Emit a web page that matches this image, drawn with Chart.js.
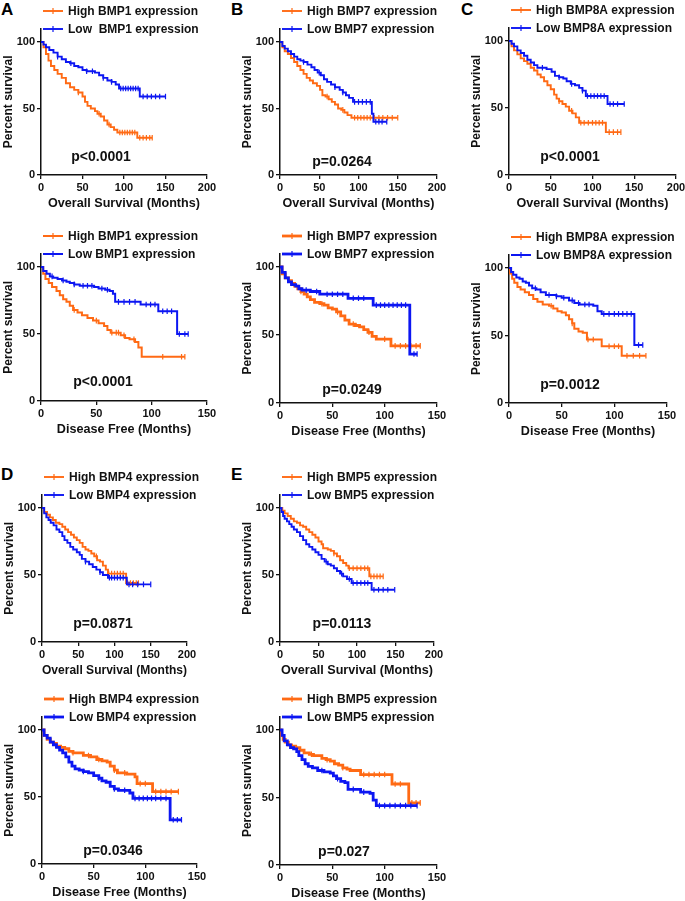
<!DOCTYPE html>
<html>
<head>
<meta charset="utf-8">
<script src="https://cdn.jsdelivr.net/npm/chart.js@4.4.0/dist/chart.umd.min.js"></script>
<style>
html, body { margin: 0; padding: 0; background: #fff; overflow: hidden; }
#fig { position: relative; width: 685px; height: 901px; }
#fig canvas { position: absolute; }
.tag { position: absolute; font: bold 17px "Liberation Sans", Arial, sans-serif; line-height: 1; color: #000; }
</style>
</head>
<body>
<div id="fig"></div>
<script>
// survival curves: [months, percent surviving]
const osHighBMP1 = [[0,100],[3,96],[6,91],[9,86],[12,82],[16,79],[20,76],[25,73],[30,69],[35,66],[40,64],[45,62],[50,59],[53,55],[56,52],[60,50],[65,48],[68,46],[72,44],[76,41],[80,38],[84,36],[88,34],[92,32],[116,28],[134,28]];
const osLowBMP1 = [[0,100],[3,98],[6,96],[10,94],[15,92],[20,89],[25,87],[30,85],[35,84],[40,82],[45,81],[50,79],[55,78],[65,77],[70,75],[75,73],[80,71],[85,70],[90,68],[94,65],[119,59],[150,59]];
const dfsHighBMP1 = [[0,100],[2,95],[4,91],[7,88],[10,85],[14,82],[17,79],[20,76],[23,74],[26,71],[29,68],[33,66],[37,64],[42,62],[47,60],[52,58],[57,56],[60,53],[63,51],[72,49],[76,47],[80,46],[85,44],[88,40],[91,33],[130,33]];
const dfsLowBMP1 = [[0,100],[2,97],[5,95],[8,93],[11,92],[15,91],[19,90],[23,89],[26,88],[30,87],[35,86],[48,85],[52,84],[58,83],[62,82],[65,80],[67,74],[90,72],[106,67],[123,50],[133,50]];

const osHighBMP7 = [[0,100],[3,96],[6,93],[10,91],[14,88],[18,85],[22,82],[26,79],[30,76],[34,73],[38,71],[42,69],[47,67],[51,64],[54,60],[58,59],[62,57],[66,55],[70,53],[74,50],[78,49],[82,47],[86,45],[91,43],[150,43]];
const osLowBMP7 = [[0,100],[3,97],[6,95],[10,93],[14,91],[18,89],[22,87],[26,86],[30,85],[35,83],[40,81],[44,79],[48,77],[52,75],[56,72],[60,70],[65,68],[70,66],[76,64],[80,62],[84,60],[88,58],[93,55],[117,46],[119,40],[136,40]];
const dfsHighBMP7 = [[0,100],[2,95],[5,92],[8,90],[11,88],[14,86],[17,84],[20,82],[23,80],[26,78],[29,76],[33,74],[38,73],[42,72],[46,70],[50,69],[54,67],[58,64],[62,61],[66,58],[72,57],[76,56],[80,54],[84,52],[88,49],[92,47],[106,42],[134,42]];
const dfsLowBMP7 = [[0,100],[2,96],[5,92],[8,89],[11,87],[15,86],[18,84],[21,83],[29,82],[38,80],[65,77],[89,72],[124,36],[131,36]];

const osHighBMP8A = [[0,100],[3,96],[6,93],[10,90],[14,87],[18,85],[22,83],[26,80],[30,78],[34,75],[38,73],[42,70],[46,67],[50,64],[54,60],[57,57],[60,55],[64,53],[68,51],[72,48],[76,46],[80,43],[84,39],[116,32],[134,32]];
const osLowBMP8A = [[0,100],[3,98],[6,96],[10,93],[14,91],[18,89],[22,86],[26,84],[30,82],[34,80],[45,79],[51,77],[55,74],[60,73],[65,72],[69,70],[74,68],[79,67],[84,65],[88,63],[92,59],[118,53],[138,53]];
const dfsHighBMP8A = [[0,100],[1,96],[3,92],[5,89],[8,86],[11,84],[15,82],[19,80],[23,77],[27,75],[32,73],[38,72],[42,70],[46,68],[50,67],[54,65],[57,62],[60,59],[62,55],[66,53],[70,52],[74,47],[88,42],[107,35],[130,35]];
const dfsLowBMP8A = [[0,100],[2,97],[4,95],[7,93],[10,92],[13,90],[16,89],[19,87],[22,85],[26,84],[30,82],[35,80],[45,79],[50,78],[57,76],[62,74],[67,73],[80,72],[84,68],[88,66],[119,43],[127,43]];

const osHighBMP4 = [[0,100],[3,97],[7,95],[11,93],[15,91],[19,89],[24,88],[28,86],[32,84],[36,82],[40,80],[44,78],[48,76],[52,74],[56,71],[60,69],[64,68],[68,66],[72,64],[76,61],[80,60],[84,57],[88,54],[91,51],[116,44],[133,44]];
const osLowBMP4 = [[0,100],[3,96],[6,93],[9,91],[12,89],[16,87],[20,84],[24,82],[28,79],[31,76],[35,74],[39,71],[43,69],[48,67],[52,65],[55,62],[60,60],[65,58],[70,56],[75,54],[80,52],[84,50],[91,48],[117,43],[150,43]];
const dfsHighBMP4 = [[0,100],[2,96],[5,93],[8,91],[11,90],[14,88],[18,87],[22,86],[26,84],[30,83],[40,81],[47,80],[53,78],[58,77],[63,76],[66,73],[70,70],[73,68],[82,67],[90,65],[92,60],[107,54],[132,54]];
const dfsLowBMP4 = [[0,100],[2,96],[5,94],[8,91],[11,89],[14,87],[17,85],[20,83],[23,80],[26,76],[29,73],[32,71],[36,70],[40,69],[45,68],[50,66],[55,64],[58,62],[62,61],[66,58],[70,56],[74,55],[85,53],[88,49],[124,33],[135,33]];

const osHighBMP5 = [[0,100],[3,98],[6,96],[10,94],[14,92],[18,90],[22,89],[26,87],[30,86],[34,84],[38,82],[42,80],[46,78],[50,75],[54,73],[56,70],[62,69],[66,68],[70,66],[74,64],[78,61],[82,59],[86,57],[89,55],[116,49],[134,49]];
const osLowBMP5 = [[0,100],[2,97],[4,94],[6,92],[9,90],[12,88],[15,86],[18,84],[22,82],[26,79],[30,76],[34,73],[38,71],[42,69],[46,67],[50,65],[54,62],[58,60],[62,58],[66,57],[70,55],[74,53],[78,51],[82,49],[87,47],[93,44],[119,39],[149,39]];
const dfsHighBMP5 = [[0,100],[1,96],[3,93],[5,91],[8,89],[11,88],[15,87],[19,85],[23,83],[28,82],[32,81],[40,79],[44,78],[48,77],[52,75],[56,74],[60,72],[64,71],[67,70],[77,67],[107,60],[123,46],[134,46]];
const dfsLowBMP5 = [[0,100],[2,96],[4,92],[7,89],[10,87],[13,86],[16,84],[18,81],[21,78],[24,75],[27,73],[31,72],[36,70],[42,69],[48,68],[51,66],[54,64],[58,62],[62,61],[65,56],[77,54],[86,53],[89,48],[92,44],[131,44]];

// censored times (months)
const osHighBMP1Cens = [45,70,82,95,98,101,104,107,110,113,119,123,127,131,134];
const osLowBMP1Cens = [20,36,55,62,75,85,96,99,102,105,108,111,114,117,123,128,133,138,143,150];
const dfsHighBMP1Cens = [30,50,64,68,70,75,84,110,127,130];
const dfsLowBMP1Cens = [10,20,30,38,42,46,55,60,70,75,80,85,95,99,103,110,114,118,125,130,133];
const osHighBMP7Cens = [60,80,95,99,103,107,111,115,120,126,131,137,143,150];
const osLowBMP7Cens = [30,50,70,80,95,100,105,110,115,122,126,130,136];
const dfsHighBMP7Cens = [20,40,55,70,85,100,110,115,120,125,130,134];
const dfsLowBMP7Cens = [25,35,45,50,55,60,70,75,80,92,96,100,104,108,112,116,120,128,131];
const osHighBMP8ACens = [60,75,86,90,95,100,104,108,112,120,125,130,134];
const osLowBMP8ACens = [40,60,75,88,94,98,102,106,110,114,121,125,130,138];
const dfsHighBMP8ACens = [40,60,75,80,95,100,104,112,118,124,130];
const dfsLowBMP8ACens = [25,38,45,52,60,66,72,76,90,95,100,104,108,112,116,123,127];
const osHighBMP4Cens = [75,92,96,100,104,108,112,118,122,126,130,133];
const osLowBMP4Cens = [60,80,93,96,100,104,108,112,120,125,132,140,150];
const dfsHighBMP4Cens = [30,45,55,70,80,95,100,110,115,120,125,132];
const dfsLowBMP4Cens = [40,55,70,80,90,94,98,102,106,110,115,120,127,131,135];
const osHighBMP5Cens = [70,90,95,100,105,110,114,118,122,126,130,134];
const osLowBMP5Cens = [60,80,90,95,100,105,110,114,122,128,134,140,149];
const dfsHighBMP5Cens = [30,45,60,80,85,90,95,100,110,115,126,130,134];
const dfsLowBMP5Cens = [40,55,70,80,95,100,105,110,115,120,125,131];

const highLabels = ['High BMP1 expression','High BMP1 expression','High BMP7 expression','High BMP7 expression','High BMP8A expression','High BMP8A expression','High BMP4 expression','High BMP4 expression','High BMP5 expression','High BMP5 expression'];
const lowLabels = ['Low  BMP1 expression','Low BMP1 expression','Low BMP7 expression','Low BMP7 expression','Low BMP8A expression','Low BMP8A expression','Low BMP4 expression','Low BMP4 expression','Low BMP5 expression','Low BMP5 expression'];
const pLabels = ['p<0.0001','p<0.0001','p=0.0264','p=0.0249','p<0.0001','p=0.0012','p=0.0871','p=0.0346','p=0.0113','p=0.027'];
const yTicks = [0, 50, 100];

const ORANGE = '#ff6a14';
const BLUE = '#0c16f2';
const INK = '#111';
const FONT = '"Liberation Sans", Arial, sans-serif';
const OS_TITLE = 'Overall Survival (Months)';
const DFS_TITLE = 'Disease Free (Months)';

const panels = [
  {hi:osHighBMP1, lo:osLowBMP1, hiC:osHighBMP1Cens, loC:osLowBMP1Cens, xMax:200, xTitle:OS_TITLE, L:41, R:207, y100:42, y0:175, lw:1.9, pdx:60, pdy:18},
  {hi:dfsHighBMP1, lo:dfsLowBMP1, hiC:dfsHighBMP1Cens, loC:dfsLowBMP1Cens, xMax:150, xTitle:DFS_TITLE, L:41, R:207, y100:267, y0:401, lw:2, pdx:62, pdy:19},
  {hi:osHighBMP7, lo:osLowBMP7, hiC:osHighBMP7Cens, loC:osLowBMP7Cens, xMax:200, xTitle:OS_TITLE, L:280, R:437, y100:42, y0:175, lw:1.9, pdx:62, pdy:13},
  {hi:dfsHighBMP7, lo:dfsLowBMP7, hiC:dfsHighBMP7Cens, loC:dfsLowBMP7Cens, xMax:150, xTitle:DFS_TITLE, L:280, R:437, y100:267, y0:403, lw:2.8, pdx:72, pdy:13},
  {hi:osHighBMP8A, lo:osLowBMP8A, hiC:osHighBMP8ACens, loC:osLowBMP8ACens, xMax:200, xTitle:OS_TITLE, L:509, R:676, y100:41, y0:175, lw:1.9, pdx:61, pdy:18},
  {hi:dfsHighBMP8A, lo:dfsLowBMP8A, hiC:dfsHighBMP8ACens, loC:dfsLowBMP8ACens, xMax:150, xTitle:DFS_TITLE, L:509, R:667, y100:268, y0:403, lw:2, pdx:61, pdy:18},
  {hi:osHighBMP4, lo:osLowBMP4, hiC:osHighBMP4Cens, loC:osLowBMP4Cens, xMax:200, xTitle:OS_TITLE, L:42, R:187, y100:508, y0:642, lw:1.9, pdx:61, pdy:18},
  {hi:dfsHighBMP4, lo:dfsLowBMP4, hiC:dfsHighBMP4Cens, loC:dfsLowBMP4Cens, xMax:150, xTitle:DFS_TITLE, L:42, R:197, y100:730, y0:864, lw:2.8, pdx:71, pdy:13},
  {hi:osHighBMP5, lo:osLowBMP5, hiC:osHighBMP5Cens, loC:osLowBMP5Cens, xMax:200, xTitle:OS_TITLE, L:280, R:434, y100:508, y0:642, lw:1.9, pdx:62, pdy:18},
  {hi:dfsHighBMP5, lo:dfsLowBMP5, hiC:dfsHighBMP5Cens, loC:dfsLowBMP5Cens, xMax:150, xTitle:DFS_TITLE, L:280, R:437, y100:730, y0:865, lw:2.8, pdx:64, pdy:13}
];

const letters = [['A',1,1],['B',231,1],['C',461,1],['D',1,466],['E',231,466]];

const fig = document.getElementById('fig');
letters.forEach(([t, x, y]) => {
  const d = document.createElement('div');
  d.className = 'tag';
  d.textContent = t;
  d.style.left = x + 'px';
  d.style.top = y + 'px';
  fig.appendChild(d);
});

function kmAt(curve, t) {
  let y = curve[0][1];
  for (const [x, s] of curve) if (x <= t) y = s;
  return y;
}
const toXY = c => c.map(([x, y]) => ({x, y}));
const censXY = (c, times) => times.map(t => ({x: t, y: kmAt(c, t)}));

// legend + p value, drawn after the chart
const extras = {
  id: 'extras',
  afterDraw(chart, args, o) {
    const ctx = chart.ctx;
    const ca = chart.chartArea;
    const top = chart.scales.y.getPixelForValue(100);
    ctx.save();
    const rows = [[ORANGE, o.high, top - 31], [BLUE, o.low, top - 13]];
    rows.forEach(([col, txt, y]) => {
      ctx.strokeStyle = col;
      ctx.lineWidth = o.lw;
      ctx.beginPath();
      ctx.moveTo(ca.left + 2, y);
      ctx.lineTo(ca.left + 22, y);
      ctx.stroke();
      ctx.lineWidth = 1.2;
      ctx.beginPath();
      ctx.moveTo(ca.left + 12, y - 3);
      ctx.lineTo(ca.left + 12, y + 3);
      ctx.stroke();
      ctx.fillStyle = INK;
      ctx.font = 'bold 12px ' + FONT;
      ctx.textAlign = 'left';
      ctx.textBaseline = 'middle';
      ctx.fillText(txt, ca.left + 27, y + 0.5);
    });
    ctx.font = 'bold 14px ' + FONT;
    ctx.textAlign = 'center';
    ctx.fillStyle = INK;
    ctx.fillText(o.p, ca.left + o.pdx, ca.bottom - o.pdy);
    ctx.restore();
  }
};

panels.forEach((p, i) => {
  const left = p.L - 41;
  const top = p.y100 - 44;
  const w = (p.R - p.L) + 41 + 18;
  const h = (p.y0 - top) + 36;
  const padTop = (p.y0 - 1.1 * (p.y0 - p.y100)) - top;
  const cv = document.createElement('canvas');
  cv.width = w;
  cv.height = h;
  cv.style.left = left + 'px';
  cv.style.top = top + 'px';
  cv.style.width = w + 'px';
  cv.style.height = h + 'px';
  fig.appendChild(cv);

  const tickFont = {family: FONT, size: 11, weight: 'bold'};
  const grid = {display: true, drawOnChartArea: false, drawTicks: true, tickLength: 4, color: INK, lineWidth: 1.3};
  const border = {display: true, color: INK, width: 1.5};

  new Chart(cv, {
    type: 'line',
    data: {
      datasets: [
        {label: highLabels[i], data: toXY(p.hi), borderColor: ORANGE, borderWidth: p.lw, stepped: true, pointRadius: 0, fill: false, order: 2},
        {label: lowLabels[i], data: toXY(p.lo), borderColor: BLUE, borderWidth: p.lw, stepped: true, pointRadius: 0, fill: false, order: 1},
        {label: 'censored high', data: censXY(p.hi, p.hiC), showLine: false, pointStyle: 'line', pointRotation: 90, pointRadius: 2.8, pointBorderWidth: 1.2, pointBorderColor: ORANGE, borderColor: ORANGE, order: 2},
        {label: 'censored low', data: censXY(p.lo, p.loC), showLine: false, pointStyle: 'line', pointRotation: 90, pointRadius: 2.8, pointBorderWidth: 1.2, pointBorderColor: BLUE, borderColor: BLUE, order: 1}
      ]
    },
    options: {
      responsive: false,
      animation: false,
      devicePixelRatio: 1,
      layout: {padding: {top: padTop, right: 18, bottom: 0, left: 0}},
      plugins: {
        legend: {display: false},
        tooltip: {enabled: false},
        extras: {high: highLabels[i], low: lowLabels[i], lw: p.lw, p: pLabels[i], pdx: p.pdx, pdy: p.pdy}
      },
      scales: {
        x: {
          type: 'linear', min: 0, max: p.xMax,
          ticks: {stepSize: 50, font: tickFont, color: INK, padding: 2, maxRotation: 0},
          grid, border,
          title: {display: true, text: p.xTitle, font: {family: FONT, size: 12.6, weight: 'bold'}, color: INK, padding: 0},
          afterFit: s => { s.height = 36; }
        },
        y: {
          type: 'linear', min: 0, max: 110,
          afterBuildTicks: s => { s.ticks = yTicks.map(v => ({value: v})); },
          ticks: {font: tickFont, color: INK, padding: 2},
          grid, border,
          title: {display: true, text: 'Percent survival', font: {family: FONT, size: 12, weight: 'bold'}, color: INK, padding: {top: 1, bottom: 0}},
          afterFit: s => { s.width = 41; }
        }
      }
    },
    plugins: [extras]
  });
});
</script>
</body>
</html>
